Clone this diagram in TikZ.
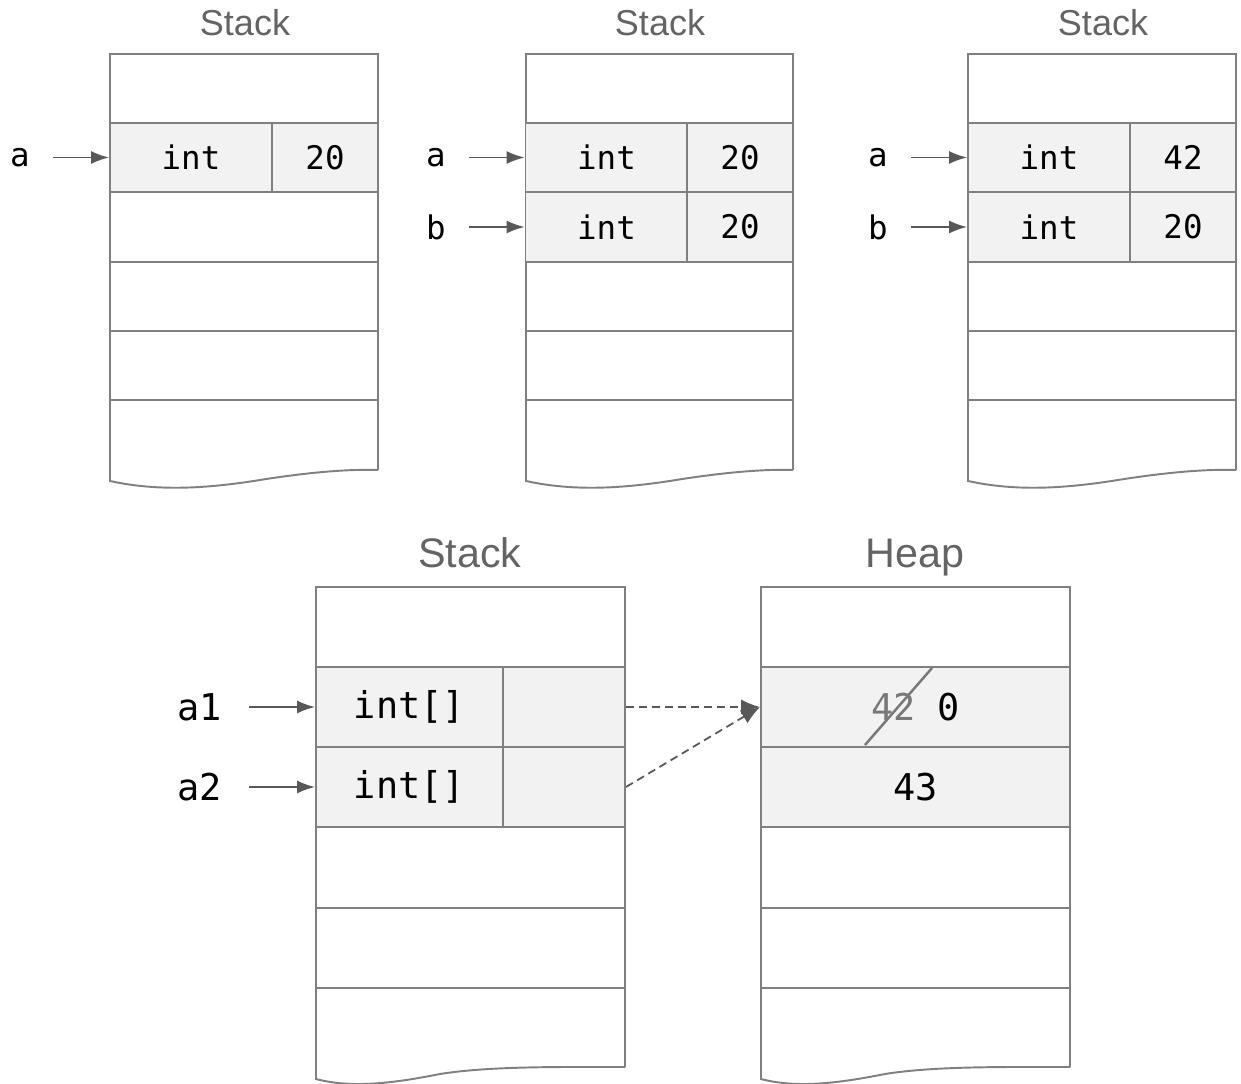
\documentclass[tikz,border=0pt]{standalone}
\usepackage{fontspec}
\setsansfont{Liberation Sans}
\setmonofont{DejaVu Sans Mono}
\usetikzlibrary{arrows.meta}

\definecolor{framegray}{RGB}{128,128,128}
\definecolor{cellgray}{RGB}{242,242,242}
\definecolor{titlegray}{RGB}{100,100,100}
\definecolor{arrowgray}{RGB}{88,88,88}
\definecolor{oldgray}{RGB}{120,120,120}

\tikzset{
	frame/.style={draw=framegray, line width=1.1pt},
	cell/.style={frame, fill=cellgray, inner sep=0pt, minimum height=1.38cm, font=\fontsize{18.5}{20}\selectfont\ttfamily},
	typew/.style={minimum width=3.24cm},
	valw/.style={minimum width=2.12cm},
	bcell/.style={cell, minimum height=1.6cm, font=\fontsize{21}{23}\selectfont\ttfamily},
	title/.style={anchor=base, text=titlegray, font=\fontsize{20.5}{22}\selectfont\sffamily},
	btitle/.style={anchor=base, text=titlegray, font=\fontsize{23.5}{25}\selectfont\sffamily},
	var/.style={anchor=east, inner xsep=0.46cm, font=\fontsize{18.5}{20}\selectfont\ttfamily},
	bvar/.style={anchor=east, inner xsep=0.54cm, font=\fontsize{21}{23}\selectfont\ttfamily},
	ptr/.style={draw=arrowgray, line width=1pt, -{Latex[length=0.36cm,width=0.26cm]}},
	ref/.style={draw=arrowgray, line width=1pt, dash pattern=on 0.16cm off 0.1cm, -{Latex[length=0.38cm,width=0.3cm]}}
}

\begin{document}
\begin{tikzpicture}[x=0.02cm, y=-0.02cm]

	\useasboundingbox (0,0) rectangle (1241,1084);

	% first stack
	\node[title] (t1) at (245,36) {Stack};
	\draw[frame] (378,470) -- (378,54) -- (110,54) -- (110,481) .. controls (160,492) and (210,488) .. (260,480) .. controls (310,472) and (350,469) .. (378,470);
	\foreach \y in {123,192,262,331,400}
		\draw[frame] (110,\y) -- (378,\y);
	\node[cell, typew] (s1t) at (191,157.5) {int};
	\node[cell, valw] (s1v) at (325,157.5) {20};
	\node[var] (la) at (53,157.5) {a};
	\draw[ptr] (la) -- (s1t);

	% second stack
	\node[title] (t2) at (660,36) {Stack};
	\draw[frame] (793,470) -- (793,54) -- (526,54) -- (526,481) .. controls (576,492) and (626,488) .. (676,480) .. controls (726,472) and (766,469) .. (793,470);
	\foreach \y in {123,192,262,331,400}
		\draw[frame] (526,\y) -- (793,\y);
	\node[cell, typew] (s2at) at (606.5,157.5) {int};
	\node[cell, valw] (s2av) at (740,157.5) {20};
	\node[cell, typew] (s2bt) at (606.5,227) {int};
	\node[cell, valw] (s2bv) at (740,227) {20};
	\node[var] (lb2a) at (469,157.5) {a};
	\node[var] (lb2b) at (469,227) {b};
	\draw[ptr] (lb2a) -- (s2at);
	\draw[ptr] (lb2b) -- (s2bt);

	% third stack
	\node[title] (t3) at (1103,36) {Stack};
	\draw[frame] (1236,470) -- (1236,54) -- (968,54) -- (968,481) .. controls (1018,492) and (1068,488) .. (1118,480) .. controls (1168,472) and (1208,469) .. (1236,470);
	\foreach \y in {123,192,262,331,400}
		\draw[frame] (968,\y) -- (1236,\y);
	\node[cell, typew] (s3at) at (1049,157.5) {int};
	\node[cell, valw] (s3av) at (1183,157.5) {42};
	\node[cell, typew] (s3bt) at (1049,227) {int};
	\node[cell, valw] (s3bv) at (1183,227) {20};
	\node[var] (lb3a) at (911,157.5) {a};
	\node[var] (lb3b) at (911,227) {b};
	\draw[ptr] (lb3a) -- (s3at);
	\draw[ptr] (lb3b) -- (s3bt);

	% array stack
	\node[btitle] (t4) at (470,567) {Stack};
	\draw[frame] (625,1067) -- (625,587) -- (316,587) -- (316,1079) .. controls (350,1088) and (390,1084) .. (440,1074) .. controls (490,1066) and (560,1067) .. (625,1067);
	\foreach \y in {667,747,827,908,988}
		\draw[frame] (316,\y) -- (625,\y);
	\node[bcell, minimum width=3.74cm] (a1t) at (409.5,707) {int[]};
	\node[bcell, minimum width=2.44cm] (a1v) at (564,707) {};
	\node[bcell, minimum width=3.74cm] (a2t) at (409.5,787) {int[]};
	\node[bcell, minimum width=2.44cm] (a2v) at (564,787) {};
	\node[bvar] (la1) at (249,707) {a1};
	\node[bvar] (la2) at (249,787) {a2};
	\draw[ptr] (la1) -- (a1t);
	\draw[ptr] (la2) -- (a2t);

	% heap
	\node[btitle] (t5) at (915,567) {Heap};
	\draw[frame] (1070,1067) -- (1070,587) -- (761,587) -- (761,1079) .. controls (795,1088) and (835,1084) .. (885,1074) .. controls (935,1066) and (1005,1067) .. (1070,1067);
	\foreach \y in {667,747,827,908,988}
		\draw[frame] (761,\y) -- (1070,\y);
	\node[bcell, minimum width=6.18cm] (h1) at (915.5,707) {\textcolor{oldgray}{42} 0};
	\node[bcell, minimum width=6.18cm] (h2) at (915.5,787) {43};
	\draw[draw=oldgray, line width=1.4pt] (865,745) -- (932,668);

	\draw[ref] (a1v.east) -- (h1.west);
	\draw[ref] (a2v.east) -- (h1.west);
\end{tikzpicture}
\end{document}
